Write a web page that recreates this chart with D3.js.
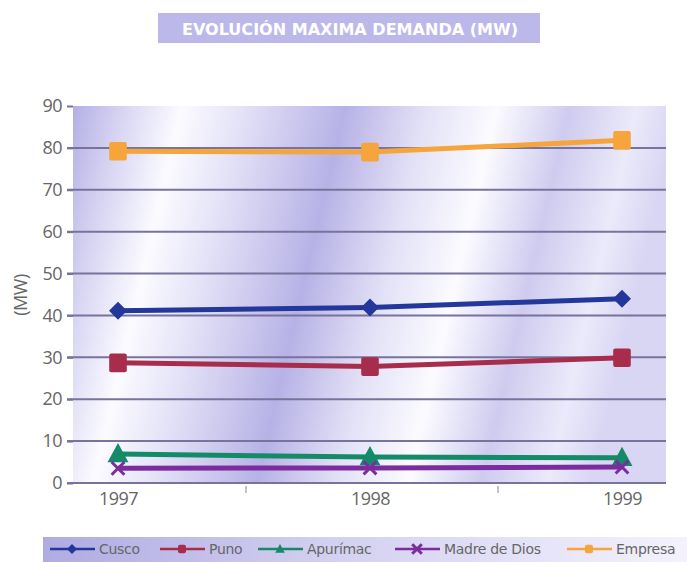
<!DOCTYPE html>
<html><head><meta charset="utf-8">
<script src="https://cdn.jsdelivr.net/npm/d3@7"></script>
<style>body{margin:0;background:#fff}svg{display:block}</style>
</head><body><svg id="c" width="687" height="562"></svg>
<script>
const years = ["1997","1998","1999"];
const yTicks = [0,10,20,30,40,50,60,70,80,90];
const seriesNames = ["Cusco","Puno","Apurímac","Madre de Dios","Empresa"];
const cusco = [41.1, 41.9, 44.0];
const puno = [28.7, 27.8, 29.9];
const apurimac = [6.9, 6.2, 6.0];
const madreDeDios = [3.5, 3.6, 3.8];
const empresa = [79.2, 79.0, 81.8];
const seriesValues = [cusco, puno, apurimac, madreDeDios, empresa];
const colors = ["#23389a","#a82c4c","#148a68","#7b2c9e","#f6a43c"];
const shapes = ["diamond","square","triangle","cross","square"];

const svg = d3.select("#c");
const defs = svg.append("defs");
const g1 = defs.append("linearGradient").attr("id","bg").attr("x1","0").attr("x2","1").attr("y1","0").attr("y2","0.15");
[[0,"#b4afe4"],[0.08,"#d6d3f2"],[0.18,"#fbfbff"],[0.28,"#e4e2f7"],[0.45,"#b7b2e6"],[0.58,"#e2e0f6"],[0.7,"#fbfbff"],[0.82,"#cfcbef"],[0.93,"#ebeafa"],[1,"#d9d6f3"]]
  .forEach(([o,c])=>g1.append("stop").attr("offset",o).attr("stop-color",c));
const g2 = defs.append("linearGradient").attr("id","lg").attr("x1","0").attr("x2","1");
[[0,"#b0abe2"],[0.45,"#d3d0f1"],[1,"#f3f2fc"]].forEach(([o,c])=>g2.append("stop").attr("offset",o).attr("stop-color",c));

// title
svg.append("rect").attr("x",158).attr("y",13).attr("width",382).attr("height",30).attr("fill","#bdb8ea");
svg.append("text").attr("x",182).attr("y",35).attr("fill","#fff")
  .attr("font-family","DejaVu Sans").attr("font-weight","bold").attr("font-size",15)
  .attr("textLength",336).attr("lengthAdjust","spacingAndGlyphs")
  .text("EVOLUCIÓN MAXIMA DEMANDA (MW)");

const pL=73, pR=666, pT=106, pB=483;
const x = d3.scalePoint().domain(years).range([118,622]);
const y = d3.scaleLinear().domain([0,90]).range([pB,pT]);

svg.append("rect").attr("x",pL).attr("y",pT).attr("width",pR-pL).attr("height",pB-pT).attr("fill","url(#bg)");

// gridlines
svg.append("g").selectAll("line").data(yTicks.filter(d=>d>0&&d<90)).join("line")
  .attr("x1",pL-6).attr("x2",pR).attr("y1",d=>y(d)).attr("y2",d=>y(d))
  .attr("stroke","#77739c").attr("stroke-width",2);

// y axis
const ya = svg.append("g").attr("transform",`translate(${pL},0)`)
  .call(d3.axisLeft(y).tickValues(yTicks).tickSize(6).tickPadding(5));
ya.select(".domain").remove();
ya.selectAll(".tick line").attr("stroke","#77739c").attr("stroke-width",2);
ya.selectAll("text").attr("font-family","Open Sans").attr("font-size",18).attr("fill","#666").attr("letter-spacing",-0.5);

// x axis
svg.append("line").attr("x1",pL-6).attr("x2",pR).attr("y1",pB).attr("y2",pB).attr("stroke","#77739c").attr("stroke-width",2);
const xa = svg.append("g").attr("transform",`translate(0,${pB})`).call(d3.axisBottom(x).tickSize(0).tickPadding(9));
xa.select(".domain").remove();
xa.selectAll("text").attr("font-family","Open Sans").attr("font-size",18).attr("fill","#666").attr("letter-spacing",-0.5);
const mids = [ (x("1997")+x("1998"))/2+2, (x("1998")+x("1999"))/2+2 ];
svg.append("g").selectAll("line").data(mids).join("line")
  .attr("x1",d=>d).attr("x2",d=>d).attr("y1",pB+3).attr("y2",pB+10).attr("stroke","#888").attr("stroke-width",1);

// y label
svg.append("text").attr("transform","translate(27,295) rotate(-90)").attr("text-anchor","middle")
  .attr("font-family","Open Sans").attr("font-size",18).attr("fill","#666").attr("letter-spacing",-0.5).text("(MW)");

function marker(sel, shape, color, s){
  if(shape==="diamond") sel.append("path").attr("d",`M0,${-s}L${s},0L0,${s}L${-s},0Z`).attr("fill",color);
  else if(shape==="square") sel.append("rect").attr("x",-s*0.8).attr("y",-s*0.85).attr("width",s*1.6).attr("height",s*1.7).attr("rx",2).attr("fill",color);
  else if(shape==="triangle") sel.append("path").attr("d",`M0,${-s}L${s*0.95},${s*0.75}L${-s*0.95},${s*0.75}Z`).attr("fill",color);
  else if(shape==="cross") sel.append("path").attr("d",`M${-s*0.8},${-s*0.8}L${s*0.8},${s*0.8}M${s*0.8},${-s*0.8}L${-s*0.8},${s*0.8}`).attr("stroke",color).attr("stroke-width",3);
}

const line = d3.line().x((d,i)=>x(years[i])).y(d=>y(d));
seriesValues.forEach((vals,k)=>{
  const g = svg.append("g");
  g.append("path").attr("d",line(vals)).attr("fill","none").attr("stroke",colors[k]).attr("stroke-width",5);
  vals.forEach((v,i)=>{
    const m = g.append("g").attr("transform",`translate(${x(years[i])},${y(v)})`);
    marker(m, shapes[k], colors[k], shapes[k]==="diamond"?9:(shapes[k]==="cross"?8:11));
  });
});

// legend
svg.append("rect").attr("x",43).attr("y",537).attr("width",644).attr("height",25).attr("fill","url(#lg)");
const legX = [50,160,258,395,567];
seriesNames.forEach((n,k)=>{
  const g = svg.append("g").attr("transform",`translate(${legX[k]},549)`);
  g.append("line").attr("x1",0).attr("x2",45).attr("stroke",colors[k]).attr("stroke-width",2.5);
  const m = g.append("g").attr("transform","translate(22,0)");
  marker(m, shapes[k], colors[k], shapes[k]==="cross"?6:5);
  g.append("text").attr("x",49).attr("y",5).attr("font-family","DejaVu Sans").attr("font-size",14).attr("fill","#666").attr("letter-spacing",-0.3).text(n);
});
</script></body></html>
